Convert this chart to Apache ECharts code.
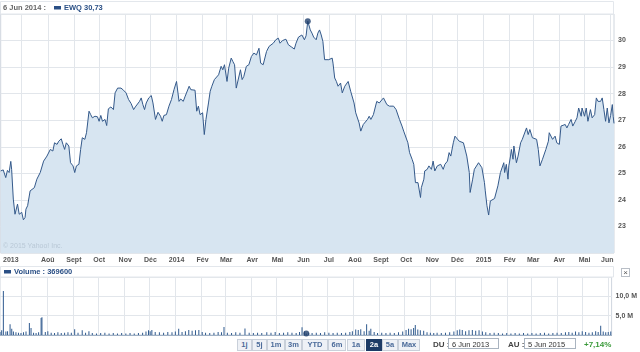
<!DOCTYPE html>
<html lang="fr">
<head>
<meta charset="UTF-8">
<title>EWQ - 2a</title>
<script src="https://cdn.jsdelivr.net/npm/echarts@6/dist/echarts.min.js"></script>
<style>
    html, body { margin: 0; padding: 0; background: #fff; }
    #wrap { position: relative; width: 640px; height: 352px; overflow: hidden; font-family: "Liberation Sans", Arial, sans-serif; }
    #chart { position: absolute; left: 0; top: 0; width: 640px; height: 352px; }
    .btn { position: absolute; top: 339px; height: 10px; line-height: 10px; font-size: 7.5px; font-weight: bold;
           color: #4a6a99; background: #eef1f6; border: 1px solid #c9d0da; text-align: center; box-sizing: content-box; }
    .btn.on { background: #1d3b66; color: #fff; border-color: #1d3b66; }
    .lbl { position: absolute; top: 339px; line-height: 11px; font-size: 8px; font-weight: bold; color: #444; }
    .box { position: absolute; top: 338px; height: 11px; line-height: 11px; font-size: 7.5px; color: #333;
           border: 1px solid #aab4c0; padding-left: 3px; box-sizing: border-box; }
    #close { position: absolute; left: 621px; top: 268px; width: 9px; height: 9px; border: 1px solid #b8bec6;
             font-size: 8px; line-height: 8px; text-align: center; color: #555; box-sizing: border-box; }
</style>
</head>
<body>
<div id="wrap">
    <div id="chart"></div>
    <div id="close">×</div>
    <div class="btn" style="left:237px;width:13px">1j</div>
    <div class="btn" style="left:252px;width:13px">5j</div>
    <div class="btn" style="left:267px;width:16px">1m</div>
    <div class="btn" style="left:285px;width:15px">3m</div>
    <div class="btn" style="left:302px;width:24px">YTD</div>
    <div class="btn" style="left:328px;width:16px">6m</div>
    <div class="btn" style="left:347px;width:16px">1a</div>
    <div class="btn on" style="left:366px;width:14px">2a</div>
    <div class="btn" style="left:382px;width:14px">5a</div>
    <div class="btn" style="left:398px;width:20px">Max</div>
    <div class="lbl" style="left:433px">DU :</div>
    <div class="box" style="left:448px;width:51px">6 Jun 2013</div>
    <div class="lbl" style="left:508px">AU :</div>
    <div class="box" style="left:524px;width:52px">5 Jun 2015</div>
    <div class="lbl" style="left:584px;color:#3a9a3a">+7,14%</div>
</div>
<script>
    // jours depuis le 6 juin 2013 -> cours EWQ
    var days = [
        0,3,6,8,10,12,13,15,17,20,22,25,27,29,30,32,35,36,40,43,47,51,53,55,59,62,64,67,69,72,74,76,78,81,83,86,88,90,93,95,
        97,100,102,105,107,109,112,115,117,119,121,124,126,128,131,134,136,139,143,146,149,152,155,158,160,162,165,167,169,171,173,176,179,181,
        184,187,190,192,194,197,200,203,206,209,212,214,217,219,221,224,226,228,231,233,235,237,240,242,244,247,249,251,254,256,
        259,262,264,266,269,271,274,276,278,280,282,285,287,289,292,295,298,301,304,307,309,312,314,316,319,321,324,327,330,332,
        335,337,339,342,344,346,349,351,354,356,358,361,363,365,
        368,370,372,375,377,379,381,383,385,387,390,392,394,395,397,399,401,404,406,409,411,413,416,418,420,422,424,426,428,431,
        433,436,438,440,443,445,447,450,452,455,457,459,462,464,467,470,472,474,477,479,481,484,486,488,489,491,493,496,497,499,
        500,503,504,507,509,512,514,516,519,521,523,526,528,531,533,535,538,540,542,545,547,550,551,
        554,557,558,561,563,565,568,570,572,575,576,578,580,582,584,587,589,591,594,596,598,599,601,603,604,606,607,609,610,613,
        615,618,620,622,625,627,629,632,634,637,639,641,644,646,648,651,652,654,656,659,661,664,666,668,671,673,675,678,680,683,
        685,687,690,691,694,696,698,701,703,706,708,710,713,715,717,719,721,723,725,727,728,729
    ];
    var prices = [
        25.09,25.13,24.84,25.11,25.03,25.45,25.15,24.03,23.46,23.84,23.46,23.53,23.25,23.34,23.65,23.78,24.34,24.40,24.46,24.78,
        25.03,25.46,25.40,25.65,25.90,25.84,26.15,26.09,26.21,26.30,26.09,25.90,26.15,26.03,25.40,25.28,25.03,25.28,25.34,25.90,
        26.34,26.28,26.53,27.34,27.21,27.09,27.15,27.13,26.96,27.18,26.96,27.03,26.80,27.43,27.50,27.40,28.03,28.21,28.21,28.13,
        28.03,27.78,27.63,27.40,27.50,27.53,27.71,27.84,27.59,27.40,27.65,27.84,27.93,27.65,
        27.03,27.30,27.15,26.96,27.18,27.21,27.53,27.78,28.15,28.46,27.71,27.80,27.71,27.88,27.84,28.28,28.15,28.21,28.13,27.34,
        27.53,27.21,27.28,26.46,27.03,27.65,28.09,28.28,28.53,28.46,28.71,29.03,28.90,29.09,28.46,28.96,29.34,29.21,29.09,28.21,
        28.21,28.90,28.53,28.65,29.03,29.09,29.40,29.53,29.46,29.71,29.15,29.09,29.15,29.59,29.78,29.80,29.90,30.03,30.09,29.90,
        30.00,30.03,30.05,29.84,29.78,29.75,29.68,29.90,30.13,30.15,30.21,30.03,30.18,30.73,
        30.40,30.28,30.13,30.03,30.28,30.40,30.21,29.96,29.28,29.21,29.28,29.21,29.34,29.15,28.59,28.46,28.28,28.40,28.03,28.28,
        28.21,28.46,28.09,28.03,27.65,27.28,27.21,26.90,26.59,26.84,26.90,27.03,27.15,27.03,27.21,27.28,27.71,27.65,27.71,27.84,
        27.80,27.59,27.53,27.50,27.53,27.40,27.46,27.03,26.78,26.59,26.53,26.15,25.78,25.84,25.53,25.34,24.65,24.65,24.59,24.09,
        24.46,24.78,25.09,25.15,25.28,25.15,25.46,25.09,25.28,25.21,25.34,25.15,25.34,25.46,25.78,25.65,26.15,26.40,26.34,26.21,
        26.25,26.15,26.03,
        25.65,25.03,24.28,24.78,25.15,25.09,25.40,25.43,25.21,24.65,24.34,23.78,23.43,23.96,23.90,24.05,24.09,24.53,25.03,25.09,
        25.40,25.03,25.34,24.78,25.28,25.65,25.90,25.53,26.03,25.40,25.65,26.15,26.28,26.34,26.71,26.46,26.65,26.34,26.34,26.28,
        25.90,25.28,25.53,25.53,25.90,26.21,26.53,26.59,26.28,26.40,26.15,26.09,26.78,26.78,26.84,26.71,26.84,27.03,26.78,26.96,
        27.09,27.46,27.15,27.46,27.15,27.46,26.96,27.40,27.09,27.21,27.84,27.71,27.71,27.84,27.40,26.96,27.46,26.90,27.18,27.59,
        27.15,26.88
    ];

    // volume (millions)
    var volDays = [
        0,2,4,7,9,12,14,16,19,22,25,28,31,35,37,40,43,46,49,50,54,57,61,65,69,73,77,81,85,89,93,98,102,106,110,115,120,125,130,135,
        140,145,150,155,160,165,170,174,177,179,181,185,190,195,200,205,209,213,217,221,225,229,233,237,241,245,250,255,260,264,
        267,271,276,281,286,292,297,302,307,312,318,323,328,333,338,343,348,353,357,360,363,365,368,372,377,382,387,392,397,402,
        407,412,417,420,424,427,430,434,437,440,442,446,450,455,460,465,470,475,480,484,487,490,493,495,498,501,505,509,513,517,
        521,526,531,536,541,545,548,551,555,559,563,567,571,575,579,584,589,594,599,604,609,614,619,624,629,634,639,644,649,654,
        659,664,669,674,678,682,686,690,694,698,702,706,710,713,716,719,722,725,728
    ];
    var volumes = [
        0.8,1.2,11.4,0.9,1.0,2.8,1.6,0.9,0.7,0.6,0.5,0.7,0.9,3.1,1.8,0.6,0.5,0.7,4.4,4.6,0.8,1.0,0.6,0.5,0.7,0.5,0.6,0.7,0.6,1.5,
        0.6,1.2,0.6,1.0,0.5,0.4,0.5,0.6,0.4,0.5,0.4,0.5,0.4,0.5,0.4,0.5,0.6,0.9,1.2,1.0,1.3,0.8,0.7,0.6,0.8,0.7,0.9,1.6,0.8,1.0,
        1.3,1.1,1.2,1.3,0.8,0.6,0.5,0.6,0.8,0.7,2.1,0.6,0.5,0.7,0.6,1.7,0.6,0.5,0.6,0.5,0.7,0.6,0.8,0.5,0.6,0.7,0.6,0.5,0.8,2.0,
        0.9,0.37,0.6,0.5,0.6,0.5,0.7,0.6,0.5,0.6,0.5,0.6,0.8,1.0,1.4,1.3,1.5,1.0,2.8,1.1,1.6,0.8,0.5,0.6,0.5,0.6,0.5,0.7,0.9,1.3,
        1.6,1.5,1.8,2.6,1.4,1.2,1.1,0.7,0.6,0.5,0.6,0.5,0.6,0.7,0.9,1.2,1.4,1.3,1.0,1.2,1.3,1.1,1.2,0.9,0.7,0.5,0.6,0.5,0.4,0.5,
        0.4,0.5,0.4,0.5,0.4,0.5,0.4,0.5,0.6,0.4,0.5,0.6,0.5,0.7,0.8,0.6,0.9,0.7,1.0,0.8,0.6,0.7,1.0,0.8,2.4,0.9,0.7,0.8,0.9
    ];

    // grille mensuelle et libellés de l'axe
    var tickDates = ['2013-07-01','2013-08-01','2013-09-01','2013-10-01','2013-11-01','2013-12-01',
        '2014-01-01','2014-02-01','2014-03-01','2014-04-01','2014-05-01','2014-06-01',
        '2014-07-01','2014-08-01','2014-09-01','2014-10-01','2014-11-01','2014-12-01',
        '2015-01-01','2015-02-01','2015-03-01','2015-04-01','2015-05-01','2015-06-01'];
    var labelDates = ['2013-06-18','2013-08-01','2013-09-01','2013-10-01','2013-11-01','2013-12-01',
        '2014-01-01','2014-02-01','2014-03-01','2014-04-01','2014-05-01','2014-06-01',
        '2014-07-01','2014-08-01','2014-09-01','2014-10-01','2014-11-01','2014-12-01',
        '2015-01-01','2015-02-01','2015-03-01','2015-04-01','2015-05-01','2015-05-28'];
    var tickLabels = ['2013','Aoû','Sept','Oct','Nov','Déc','2014','Fév','Mar','Avr','Mai','Jun',
        'Jul','Aoû','Sept','Oct','Nov','Déc','2015','Fév','Mar','Avr','Mai','Jun'];

    var hoverDay = 365;
    var hoverPrice = 30.73;
    var hoverVolume = 0.37;

    // jour 0 = 6 juin 2013
    function dateToDay(s) {
        var p = s.split('-');
        return Math.round((Date.UTC(+p[0], +p[1] - 1, +p[2]) - Date.UTC(2013, 5, 6)) / 86400000);
    }

    var tickDays = tickDates.map(dateToDay);
    var labelDays = labelDates.map(dateToDay);
    var labelMap = {};
    for (var i = 0; i < labelDays.length; i++) labelMap[labelDays[i]] = tickLabels[i];

    var priceData = [];
    for (var i = 0; i < days.length; i++) priceData.push([days[i], prices[i]]);
    var volData = [];
    for (var j = 0; j < volDays.length; j++) volData.push([volDays[j], volumes[j]]);

    var FONT = '"Liberation Sans", Arial, sans-serif';
    var gridColor = '#e2e6eb';
    var blue = '#2a4f85';

    var chart = echarts.init(document.getElementById('chart'), null, { renderer: 'canvas' });
    var option = {
        animation: false,
        textStyle: { fontFamily: FONT },
        grid: [
            { left: 0, top: 14, width: 614, height: 239, show: true, borderColor: '#cfd6de', borderWidth: 1 },
            { left: 0, top: 277, width: 614, height: 58, show: true, borderColor: '#cfd6de', borderWidth: 1 }
        ],
        xAxis: [
            {
                type: 'value', gridIndex: 0, min: 0, max: 729,
                axisLine: { show: false },
                axisTick: { show: false, customValues: tickDays },
                axisLabel: {
                    customValues: labelDays, margin: 4, fontSize: 7, fontWeight: 'bold', color: '#555', fontFamily: FONT,
                    formatter: function (v) { return labelMap[v] || ''; }
                },
                splitLine: { show: true, lineStyle: { color: gridColor, width: 1 } }
            },
            {
                type: 'value', gridIndex: 1, min: 0, max: 729,
                axisLine: { show: true, lineStyle: { color: '#9fb0c4' } },
                axisTick: { show: false, customValues: tickDays },
                axisLabel: { show: false },
                splitLine: { show: true, lineStyle: { color: gridColor, width: 1 } }
            }
        ],
        yAxis: [
            {
                type: 'value', gridIndex: 0, position: 'right', min: 22, max: 31, interval: 1,
                axisLine: { show: false }, axisTick: { show: false },
                axisLabel: { margin: 4, fontSize: 7, fontWeight: 'bold', color: '#555', fontFamily: FONT,
                    showMinLabel: false, showMaxLabel: false },
                splitLine: { lineStyle: { color: gridColor } }
            },
            {
                type: 'value', gridIndex: 1, position: 'right', min: 0, max: 15, interval: 5,
                axisLine: { show: false }, axisTick: { show: false },
                axisLabel: { margin: 4, fontSize: 7, fontWeight: 'bold', color: '#555', fontFamily: FONT,
                    showMinLabel: false, showMaxLabel: false,
                    formatter: function (v) { return v.toFixed(1).replace('.', ',') + ' M'; } },
                splitLine: { lineStyle: { color: gridColor } }
            }
        ],
        series: [
            {
                name: 'EWQ', type: 'line', xAxisIndex: 0, yAxisIndex: 0, data: priceData,
                symbol: 'none', lineStyle: { color: '#34598a', width: 1 },
                areaStyle: { color: '#d7e5f1', opacity: 1 }, z: 3
            },
            {
                type: 'scatter', xAxisIndex: 0, yAxisIndex: 0, data: [[hoverDay, hoverPrice]],
                symbolSize: 6, itemStyle: { color: '#1f3f6b' }, z: 5
            },
            {
                name: 'Volume', type: 'bar', xAxisIndex: 1, yAxisIndex: 1, data: volData,
                barWidth: 1, itemStyle: { color: '#2f5a8f' }, z: 3
            },
            {
                type: 'scatter', xAxisIndex: 1, yAxisIndex: 1, data: [[hoverDay, hoverVolume]],
                symbolSize: 6, itemStyle: { color: '#1f3f6b' }, z: 5
            }
        ],
        graphic: [
            { type: 'rect', shape: { x: 0.5, y: 1.5, width: 613, height: 12.5 }, style: { fill: '#fff', stroke: '#e3e7ec' }, z: 1 },
            { type: 'text', x: 3, y: 8, style: { text: '6 Jun 2014 :', fill: '#666', font: 'bold 7.5px ' + FONT, verticalAlign: 'middle' }, z: 10 },
            { type: 'rect', shape: { x: 54, y: 6, width: 7, height: 3.5 }, style: { fill: blue }, z: 10 },
            { type: 'text', x: 64, y: 8, style: { text: 'EWQ 30,73', fill: blue, font: 'bold 7.5px ' + FONT, verticalAlign: 'middle' }, z: 10 },
            { type: 'text', x: 3, y: 246, style: { text: '© 2015 Yahoo! Inc.', fill: '#b9c8d6', font: '7px ' + FONT, verticalAlign: 'middle' }, z: 10 },
            { type: 'rect', shape: { x: 0.5, y: 266.5, width: 613, height: 10.5 }, style: { fill: '#fff', stroke: '#e3e7ec' }, z: 1 },
            { type: 'rect', shape: { x: 4, y: 270, width: 7, height: 3.5 }, style: { fill: blue }, z: 10 },
            { type: 'text', x: 14, y: 272, style: { text: 'Volume : 369600', fill: blue, font: 'bold 7.5px ' + FONT, verticalAlign: 'middle' }, z: 10 }
        ]
    };
    chart.setOption(option);
</script>
</body>
</html>
